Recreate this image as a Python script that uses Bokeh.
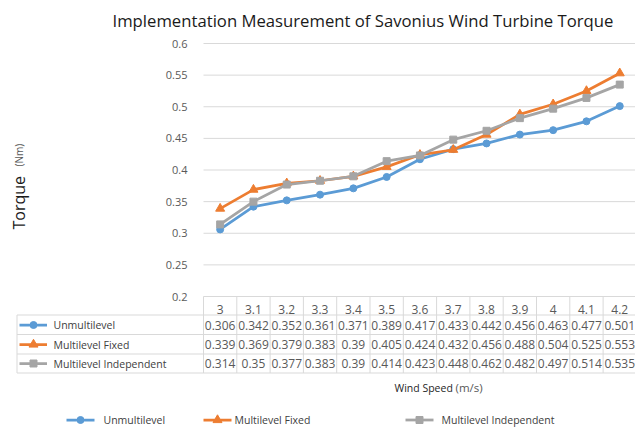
import math
from bokeh.plotting import figure
from bokeh.models import Range1d, FixedTicker, LinearAxis
from bokeh.embed import file_html
from bokeh.resources import INLINE
from bokeh.core.properties import value

# ---------------- data ----------------
wind_speed = ["3", "3.1", "3.2", "3.3", "3.4", "3.5", "3.6", "3.7", "3.8", "3.9", "4", "4.1", "4.2"]
unmultilevel = [0.306, 0.342, 0.352, 0.361, 0.371, 0.389, 0.417, 0.433, 0.442, 0.456, 0.463, 0.477, 0.501]
multilevel_fixed = [0.339, 0.369, 0.379, 0.383, 0.39, 0.405, 0.424, 0.432, 0.456, 0.488, 0.504, 0.525, 0.553]
multilevel_independent = [0.314, 0.35, 0.377, 0.383, 0.39, 0.414, 0.423, 0.448, 0.462, 0.482, 0.497, 0.514, 0.535]
series_names = ["Unmultilevel", "Multilevel Fixed", "Multilevel Independent"]
y_ticks = [0.2, 0.25, 0.3, 0.35, 0.4, 0.45, 0.5, 0.55, 0.6]
y_tick_labels = ["0.2", "0.25", "0.3", "0.35", "0.4", "0.45", "0.5", "0.55", "0.6"]

# ---------------- styles / layout ----------------
FONT = "Open Sans"
colors = ["#5B9BD5", "#ED7D31", "#A5A5A5"]
markers = ["circle", "triangle", "square"]
msizes = [7, 9, 7]
GRID = "#D9D9D9"
TXT = "#595959"
DARK = "#404040"

series = [unmultilevel, multilevel_fixed, multilevel_independent]
n = len(wind_speed)
centers = [i + 0.5 for i in range(n)]
bounds = [float(i) for i in range(n + 1)]

W, H = 635, 427
FRAME_L, FRAME_T = 0, 33         # frame left / top in canvas pixels
X0, COL_W = 203.0, 33.3          # canvas x of first category boundary, column width
Y_TOP_PX, Y_BOT_PX = 43.0, 296.0  # canvas y of 0.6 and 0.2
Y_MIN, Y_MAX = 0.2, 0.6
UNIT_PER_PX = (Y_MAX - Y_MIN) / (Y_BOT_PX - Y_TOP_PX)


def px(cx):
    return (cx - X0) / COL_W


def py(cy):
    return Y_MAX - (cy - Y_TOP_PX) * UNIT_PER_PX


p = figure(width=W, height=H, x_range=Range1d(px(FRAME_L), px(W)),
           y_range=Range1d(py(H), py(FRAME_T)),
           x_axis_type=None, y_axis_type=None, output_backend="svg", toolbar_location=None,
           min_border_left=FRAME_L, min_border_right=0, min_border_top=FRAME_T, min_border_bottom=0)
p.outline_line_color = None
p.background_fill_color = "white"
p.border_fill_color = "white"

p.title.text = "Implementation Measurement of Savonius Wind Turbine Torque"
p.title.text_font = FONT
p.title.text_font_size = "16.7px"
p.title.text_font_style = "normal"
p.title.text_color = "#1a1a1a"
p.title.align = "left"
p.title.offset = 112
p.title.standoff = 4

# y axis at the first category boundary
yaxis = LinearAxis(ticker=FixedTicker(ticks=y_ticks), fixed_location=0,
                   major_label_overrides={t: l for t, l in zip(y_ticks, y_tick_labels)})
yaxis.axis_line_color = None
yaxis.major_tick_line_color = None
yaxis.minor_tick_line_color = None
yaxis.major_label_text_font = FONT
yaxis.major_label_text_font_size = "11px"
yaxis.major_label_text_color = TXT
yaxis.major_label_standoff = 10
p.add_layout(yaxis, "left")

# category axis = header row of the data table
xaxis = LinearAxis(ticker=FixedTicker(ticks=centers), fixed_location=Y_MIN,
                   major_label_overrides={c: l for c, l in zip(centers, wind_speed)})
xaxis.axis_line_color = None
xaxis.major_tick_line_color = None
xaxis.minor_tick_line_color = None
xaxis.major_label_text_font = FONT
xaxis.major_label_text_font_size = "12px"
xaxis.major_label_text_color = TXT
xaxis.major_label_standoff = 2
p.add_layout(xaxis, "below")

# horizontal grid lines (only over the plotting area)
p.segment(x0=[0] * len(y_ticks), x1=[n] * len(y_ticks), y0=y_ticks, y1=y_ticks,
          line_color=GRID, line_width=1)

# series
for vals, c, m, s in zip(series, colors, markers, msizes):
    p.line(centers, vals, line_color=c, line_width=2.75)
    p.scatter(centers, vals, marker=m, size=s, fill_color=c, line_color=c)

# y axis title
p.text([px(18)], [py(229)], text=["Torque"], angle=math.pi / 2, text_font=value(FONT),
       text_font_size="16px", text_color="#1a1a1a", text_align="left", text_baseline="middle")
p.text([px(18)], [py(166)], text=["(Nm)"], angle=math.pi / 2, text_font=value(FONT),
       text_font_size="10px", text_color=TXT, text_align="left", text_baseline="middle")

# ---------------- data table ----------------
row_lines = [py(314.5), py(334), py(353.5), py(372.5)]
row_mid = [py(324.5), py(344), py(363)]
left_edge = px(16.5)

p.segment(x0=[left_edge] * len(row_lines), x1=[n] * len(row_lines), y0=row_lines, y1=row_lines,
          line_color=GRID, line_width=1)
p.segment(x0=bounds, x1=bounds, y0=[Y_MIN] * len(bounds), y1=[row_lines[-1]] * len(bounds),
          line_color=GRID, line_width=1)
p.segment(x0=[left_edge], x1=[left_edge], y0=[row_lines[0]], y1=[row_lines[-1]],
          line_color=GRID, line_width=1)

for vals, y, c, m, s, name in zip(series, row_mid, colors, markers, msizes, series_names):
    p.text(centers, [y] * n, text=["%g" % v for v in vals], text_font=value(FONT),
           text_font_size="12px", text_color=TXT, text_align="center", text_baseline="middle")
    p.line([px(19), px(46.5)], [y, y], line_color=c, line_width=2.75)
    p.scatter([px(33)], [y], marker=m, size=s, fill_color=c, line_color=c)
    p.text([px(53)], [y], text=[name], text_font=value(FONT), text_font_size="10.5px",
           text_color=DARK, text_align="left", text_baseline="middle")

# x axis title
p.text([px(394)], [py(387)], text=["Wind Speed"], text_font=value(FONT), text_font_size="10.5px",
       text_color="#262626", text_align="left", text_baseline="middle")
p.text([px(455)], [py(387)], text=["(m/s)"], text_font=value(FONT), text_font_size="11.5px",
       text_color=TXT, text_align="left", text_baseline="middle")

# bottom legend
leg_x = [(66, 94, 103), (203, 231, 234), (405, 433, 441)]
leg_y = py(419.5)
for (a, b, t), c, m, s, name in zip(leg_x, colors, markers, msizes, series_names):
    p.line([px(a), px(b)], [leg_y, leg_y], line_color=c, line_width=2.75)
    p.scatter([px((a + b) / 2)], [leg_y], marker=m, size=s, fill_color=c, line_color=c)
    p.text([px(t)], [leg_y], text=[name], text_font=value(FONT), text_font_size="10.5px",
           text_color=DARK, text_align="left", text_baseline="middle")

open("out.html", "w").write(file_html(p, INLINE))
